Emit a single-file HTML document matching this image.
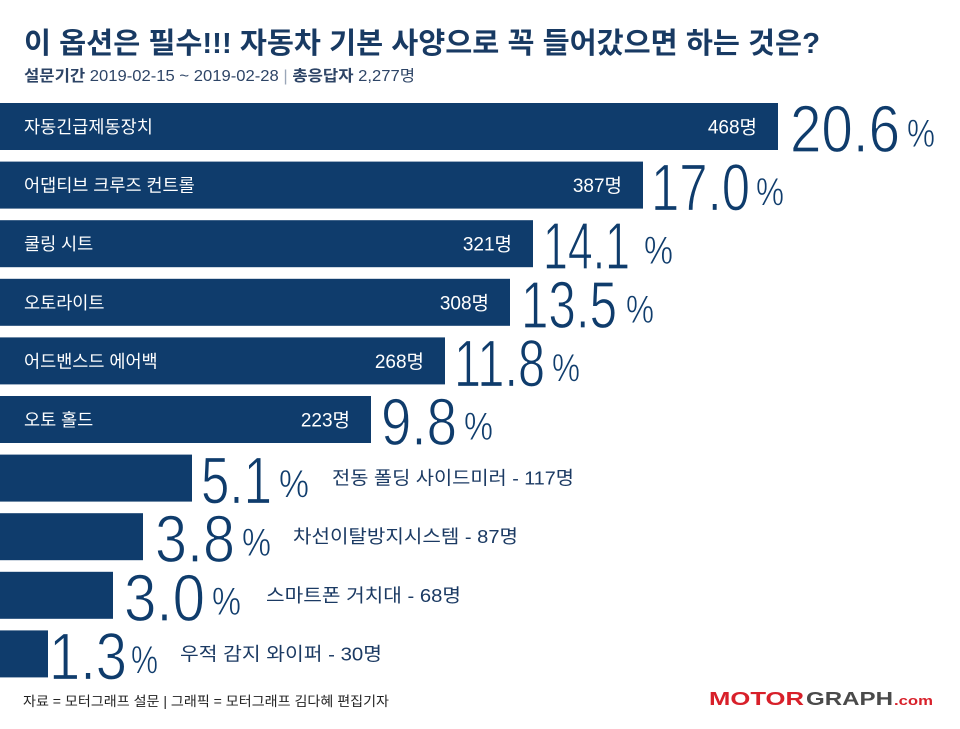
<!DOCTYPE html>
<html>
<head>
<meta charset="utf-8">
<style>
html,body{margin:0;padding:0;background:#fff;}
svg{display:block;}
.kr{font-family:"Liberation Sans","Noto Sans CJK KR",sans-serif;}
.num{font-family:"Liberation Sans","DejaVu Sans",sans-serif;fill:#0f3c6c;}
</style>
</head>
<body>
<svg width="960" height="729" viewBox="0 0 960 729" xmlns="http://www.w3.org/2000/svg">
<rect width="960" height="729" fill="#fff"/>
<!-- Title -->
<text class="kr" x="24" y="53" font-size="29" font-weight="bold" fill="#183a63" textLength="796" lengthAdjust="spacingAndGlyphs">이 옵션은 필수!!! 자동차 기본 사양으로 꼭 들어갔으면 하는 것은?</text>
<!-- Subtitle -->
<text class="kr" x="24" y="81" font-size="15.5" fill="#2d4466" textLength="391" lengthAdjust="spacingAndGlyphs"><tspan font-weight="bold">설문기간</tspan> 2019-02-15 ~ 2019-02-28 <tspan fill="#9aa6b8">|</tspan> <tspan font-weight="bold">총응답자</tspan> 2,277명</text>

<g fill="#0f3c6c">
<rect x="0" y="103" width="778" height="47"/>
<rect x="0" y="161.6" width="643" height="47"/>
<rect x="0" y="220.2" width="533" height="47"/>
<rect x="0" y="278.8" width="510" height="47"/>
<rect x="0" y="337.4" width="445" height="47"/>
<rect x="0" y="396" width="371" height="47"/>
<rect x="0" y="454.6" width="192" height="47"/>
<rect x="0" y="513.2" width="143" height="47"/>
<rect x="0" y="571.8" width="113" height="47"/>
<rect x="0" y="630.4" width="48" height="47"/>
</g>

<!-- labels in bars -->
<g class="kr" fill="#fff" font-size="17.5">
<text x="24" y="133">자동긴급제동장치</text>
<text x="24" y="191.6">어댑티브 크루즈 컨트롤</text>
<text x="24" y="250.2">쿨링 시트</text>
<text x="24" y="308.8">오토라이트</text>
<text x="24" y="367.4">어드밴스드 에어백</text>
<text x="24" y="426">오토 홀드</text>
</g>
<g class="kr" fill="#fff" font-size="19" text-anchor="end">
<text x="757" y="133.5">468명</text>
<text x="622" y="192.1">387명</text>
<text x="512" y="250.7">321명</text>
<text x="489" y="309.3">308명</text>
<text x="424" y="367.9">268명</text>
<text x="350" y="426.5">223명</text>
</g>

<!-- big percent numbers -->
<g class="num" font-size="67" stroke="#fff" stroke-width="1.2">
<text x="790" y="152" textLength="110" lengthAdjust="spacingAndGlyphs">20.6</text>
<text x="651" y="210.6" textLength="99" lengthAdjust="spacingAndGlyphs">17.0</text>
<text x="543" y="269.2" textLength="87" lengthAdjust="spacingAndGlyphs">14.1</text>
<text x="521" y="327.8" textLength="96" lengthAdjust="spacingAndGlyphs">13.5</text>
<text x="454" y="386.4" textLength="91" lengthAdjust="spacingAndGlyphs">11.8</text>
<text x="381" y="445" textLength="76" lengthAdjust="spacingAndGlyphs">9.8</text>
<text x="201" y="503.6" textLength="71" lengthAdjust="spacingAndGlyphs">5.1</text>
<text x="155" y="562.2" textLength="80" lengthAdjust="spacingAndGlyphs">3.8</text>
<text x="124" y="620.8" textLength="81" lengthAdjust="spacingAndGlyphs">3.0</text>
<text x="49" y="679.4" textLength="78" lengthAdjust="spacingAndGlyphs">1.3</text>
</g>
<g class="num" font-size="39" stroke="#fff" stroke-width="0.6">
<text x="907" y="147" textLength="28" lengthAdjust="spacingAndGlyphs">%</text>
<text x="756" y="205.6" textLength="28" lengthAdjust="spacingAndGlyphs">%</text>
<text x="644" y="264.2" textLength="29" lengthAdjust="spacingAndGlyphs">%</text>
<text x="626" y="322.8" textLength="28" lengthAdjust="spacingAndGlyphs">%</text>
<text x="552" y="381.4" textLength="28" lengthAdjust="spacingAndGlyphs">%</text>
<text x="464" y="440" textLength="29" lengthAdjust="spacingAndGlyphs">%</text>
<text x="279" y="497.6" textLength="30" lengthAdjust="spacingAndGlyphs">%</text>
<text x="242" y="556.2" textLength="29" lengthAdjust="spacingAndGlyphs">%</text>
<text x="212" y="614.8" textLength="29" lengthAdjust="spacingAndGlyphs">%</text>
<text x="131" y="673.4" textLength="27" lengthAdjust="spacingAndGlyphs">%</text>
</g>

<!-- outside labels -->
<g class="kr" fill="#1b3a63" font-size="18.5">
<text x="332" y="484.6" textLength="242" lengthAdjust="spacingAndGlyphs">전동 폴딩 사이드미러 - 117명</text>
<text x="293" y="543.2" textLength="225" lengthAdjust="spacingAndGlyphs">차선이탈방지시스템 - 87명</text>
<text x="266" y="601.8" textLength="195" lengthAdjust="spacingAndGlyphs">스마트폰 거치대 - 68명</text>
<text x="180" y="660.4" textLength="202" lengthAdjust="spacingAndGlyphs">우적 감지 와이퍼 - 30명</text>
</g>

<!-- footer -->
<text class="kr" x="23" y="706" font-size="13.5" fill="#222" textLength="366" lengthAdjust="spacingAndGlyphs">자료 = 모터그래프 설문  |  그래픽 = 모터그래프 김다혜 편집기자</text>

<!-- logo -->
<g font-family="'Liberation Sans',sans-serif" font-weight="bold">
<text x="709" y="705" font-size="18" fill="#d8202a" textLength="95" lengthAdjust="spacingAndGlyphs">MOTOR</text>
<text x="806" y="705" font-size="18" fill="#4a4a4a" textLength="87" lengthAdjust="spacingAndGlyphs">GRAPH</text>
<text x="894" y="705" font-size="13" fill="#d8202a" textLength="39" lengthAdjust="spacingAndGlyphs">.com</text>
</g>
</svg>
</body>
</html>
